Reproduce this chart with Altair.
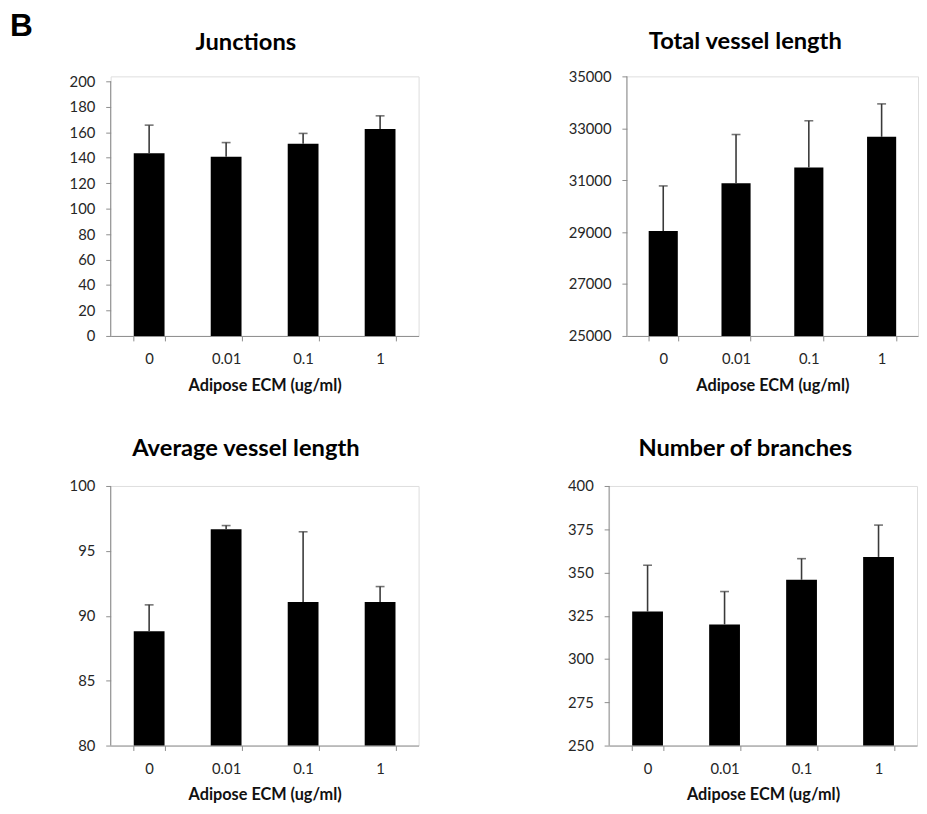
import altair as alt
import pandas as pd

categories = ["0", "0.01", "0.1", "1"]

junctions_mean = [143.6, 140.8, 150.9, 162.5]
junctions_sd = [22.0, 11.1, 8.2, 10.4]

total_mean = [29040, 30880, 31490, 32670]
total_sd = [1740, 1880, 1800, 1270]

avg_mean = [88.8, 96.67, 91.06, 91.06]
avg_sd = [2.04, 0.28, 5.41, 1.19]

branch_mean = [327.4, 320.0, 345.8, 359.0]
branch_sd = [26.8, 19.0, 12.2, 18.4]

FONT = "Lato"
AXIS_GRAY = "#8c8c8c"
LABEL = "#262626"


def panel(title, means, sds, lo, top, step, scale_top, width, height,
          title_x, title_y, label_b=False):
    df = pd.DataFrame({
        "conc": categories,
        "mean": means,
        "upper": [m + s for m, s in zip(means, sds)],
        "base": [lo] * len(categories),
    })
    xenc = alt.X(
        "conc:N", sort=categories,
        scale=alt.Scale(paddingInner=0.6, paddingOuter=0.3),
        axis=alt.Axis(
            title="Adipose ECM (ug/ml)", labelAngle=0, tickBand="extent",
            domainColor=AXIS_GRAY, tickColor=AXIS_GRAY, tickSize=5,
            labelFont=FONT, labelFontSize=15, labelColor=LABEL, labelPadding=11,
            titleFont=FONT, titleFontSize=16.5, titleFontWeight="bold",
            titleColor="#111", titlePadding=11,
        ),
    )
    n = int(round((top - lo) / step))
    ticks = [lo + i * step for i in range(n + 1)]
    yscale = alt.Scale(domain=[lo, scale_top], nice=False, zero=False)
    yenc = alt.Y(
        "mean:Q", scale=yscale,
        axis=alt.Axis(
            title=None, values=ticks, tickCount=len(ticks), format="d",
            domain=False, grid=False, labelOverlap=False, labelSeparation=0,
            tickColor=AXIS_GRAY, tickSize=5, labelFont=FONT, labelFontSize=15,
            labelColor=LABEL, labelPadding=11,
        ),
    )
    base = alt.Chart(df)
    bars = base.mark_bar(color="black").encode(x=xenc, y=yenc, y2="base:Q")
    err = base.mark_rule(color="#3a3a3a", strokeWidth=1.6).encode(
        x=alt.X("conc:N", sort=categories), y="mean:Q", y2="upper:Q")
    cap = base.mark_tick(color="#3a3a3a", thickness=1.6, size=9).encode(
        x=alt.X("conc:N", sort=categories), y="upper:Q")
    axis_df = pd.DataFrame({"y0": [lo], "y1": [top]})
    axis_line = alt.Chart(axis_df).mark_rule(color=AXIS_GRAY, strokeWidth=1).encode(
        x=alt.value(0), y="y0:Q", y2="y1:Q")
    title_df = pd.DataFrame({"t": [title]})
    title_mark = alt.Chart(title_df).mark_text(
        font=FONT, fontSize=24, fontWeight="bold", color="black",
        align="center", baseline="alphabetic",
    ).encode(text="t:N", x=alt.value(title_x), y=alt.value(title_y))
    layers = [bars, err, cap, axis_line, title_mark]
    if label_b:
        b_df = pd.DataFrame({"t": ["B"]})
        b_text = alt.Chart(b_df).mark_text(
            font="Liberation Sans", fontSize=32, fontWeight="bold", color="black",
            align="left", baseline="top",
        ).encode(text="t:N", x=alt.value(-102), y=alt.value(-66))
        layers.append(b_text)
    return alt.layer(*layers).properties(width=width, height=height)


p1 = panel("Junctions", junctions_mean, junctions_sd, 0, 200, 20, 203.9, 312, 263,
           137, -27, label_b=True)
p2 = panel("Total vessel length", total_mean, total_sd, 25000, 35000, 2000, 35000, 295, 263,
           120, -28)
p3 = panel("Average vessel length", avg_mean, avg_sd, 80, 100, 5, 100, 312, 263,
           137, -30)
p4 = panel("Number of branches", branch_mean, branch_sd, 250, 400, 25, 400, 312, 263,
           138, -30)

row1 = alt.hconcat(p1, p2, spacing=150)
row2 = alt.hconcat(p3, p4, spacing=149)

chart = alt.vconcat(row1, row2, spacing=43).properties(
    padding={"left": 1, "top": -4, "right": 0, "bottom": 0}
).configure_view(strokeWidth=0).configure_axis(
    labelOverlap=False
).configure(background="white")

chart.save("out.html", embed_options={"renderer": "svg", "actions": False})
